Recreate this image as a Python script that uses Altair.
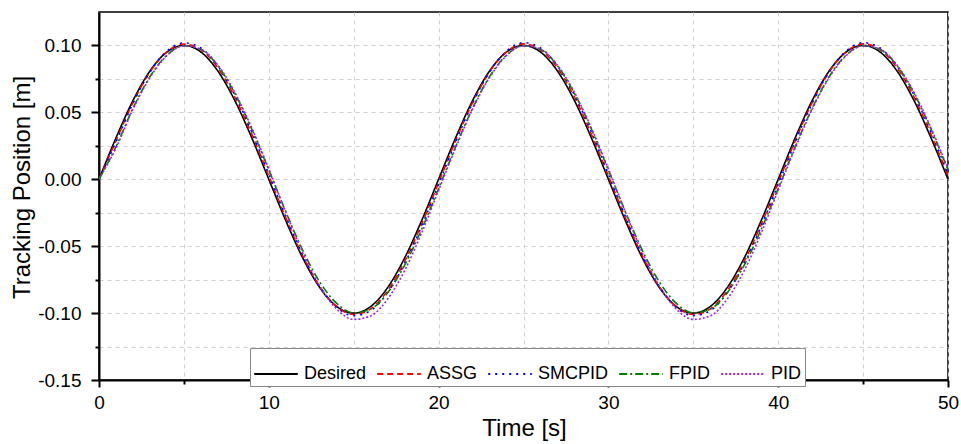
import altair as alt
import pandas as pd

time_s = list(range(0, 51))

desired = [0.0, 0.0309, 0.0588, 0.0809, 0.0951, 0.1000, 0.0951, 0.0809, 0.0588, 0.0309,
           0.0, -0.0309, -0.0588, -0.0809, -0.0951, -0.1000, -0.0951, -0.0809, -0.0588, -0.0309,
           0.0, 0.0309, 0.0588, 0.0809, 0.0951, 0.1000, 0.0951, 0.0809, 0.0588, 0.0309,
           0.0, -0.0309, -0.0588, -0.0809, -0.0951, -0.1000, -0.0951, -0.0809, -0.0588, -0.0309,
           0.0, 0.0309, 0.0588, 0.0809, 0.0951, 0.1000, 0.0951, 0.0809, 0.0588, 0.0309, 0.0]

assg = [0.0, 0.0288, 0.0573, 0.0802, 0.0952, 0.1010, 0.0968, 0.0832, 0.0614, 0.0336,
        0.0025, -0.0288, -0.0573, -0.0802, -0.0952, -0.1010, -0.0968, -0.0832, -0.0614, -0.0336,
        -0.0025, 0.0288, 0.0573, 0.0802, 0.0952, 0.1012, 0.0968, 0.0832, 0.0614, 0.0336,
        0.0025, -0.0288, -0.0573, -0.0802, -0.0952, -0.1010, -0.0968, -0.0832, -0.0614, -0.0336,
        -0.0025, 0.0288, 0.0573, 0.0802, 0.0952, 0.1012, 0.0968, 0.0832, 0.0614, 0.0336, 0.0025]

smcpid = [0.0, 0.0278, 0.0568, 0.0802, 0.0958, 0.1019, 0.0981, 0.0847, 0.0630, 0.0352,
          0.0038, -0.0278, -0.0568, -0.0802, -0.0958, -0.1019, -0.0981, -0.0847, -0.0630, -0.0352,
          -0.0038, 0.0278, 0.0568, 0.0802, 0.0958, 0.1021, 0.0981, 0.0847, 0.0630, 0.0352,
          0.0038, -0.0278, -0.0568, -0.0802, -0.0958, -0.1019, -0.0981, -0.0847, -0.0630, -0.0352,
          -0.0038, 0.0278, 0.0568, 0.0802, 0.0958, 0.1021, 0.0981, 0.0847, 0.0630, 0.0352, 0.0038]

fpid = [0.0, 0.0243, 0.0531, 0.0767, 0.0928, 0.0998, 0.0970, 0.0848, 0.0642, 0.0374,
        0.0069, -0.0243, -0.0531, -0.0767, -0.0928, -0.0998, -0.0970, -0.0848, -0.0642, -0.0374,
        -0.0069, 0.0243, 0.0531, 0.0767, 0.0928, 0.0998, 0.0970, 0.0848, 0.0642, 0.0374,
        0.0069, -0.0243, -0.0531, -0.0767, -0.0928, -0.0998, -0.0970, -0.0848, -0.0642, -0.0374,
        -0.0069, 0.0243, 0.0531, 0.0767, 0.0928, 0.0998, 0.0970, 0.0848, 0.0642, 0.0374, 0.0069]

pid = [0.0, 0.0233, 0.0523, 0.0760, 0.0924, 0.0997, 0.0972, 0.0853, 0.0649, 0.0383,
       0.0078, -0.0245, -0.0549, -0.0798, -0.0970, -0.1047, -0.1021, -0.0895, -0.0682, -0.0402,
       -0.0082, 0.0233, 0.0523, 0.0760, 0.0924, 0.0997, 0.0972, 0.0853, 0.0649, 0.0383,
       0.0078, -0.0245, -0.0549, -0.0798, -0.0970, -0.1047, -0.1021, -0.0895, -0.0682, -0.0402,
       -0.0082, 0.0233, 0.0523, 0.0760, 0.0924, 0.0997, 0.0972, 0.0853, 0.0649, 0.0383, 0.0078]

series_names = ["Desired", "ASSG", "SMCPID", "FPID", "PID"]
series_colors = ["#000000", "#ff0000", "#0000ff", "#008000", "#a020f0"]
series_dashes = [[1, 0], [6, 4], [2, 5], [8, 3, 2, 3], [2, 2]]

x_ticks = [0, 5, 10, 15, 20, 25, 30, 35, 40, 45, 50]
y_ticks = [-0.15, -0.125, -0.1, -0.075, -0.05, -0.025, 0.0, 0.025, 0.05, 0.075, 0.1]

rows = []
for order, (name, vals) in enumerate(zip(series_names, [desired, assg, smcpid, fpid, pid])):
    for t, v in zip(time_s, vals):
        rows.append({"t": t, "v": v, "series": name, "ord": order})
df = pd.DataFrame(rows)

FONT = "Liberation Sans"

x_major = "datum.value % 10 == 0"
y_major = "abs(round(datum.value * 20) - datum.value * 20) < 0.001"

chart = alt.Chart(df).mark_line(strokeWidth=1.6, interpolate="monotone", clip=True).encode(
    x=alt.X("t:Q",
            scale=alt.Scale(domain=[0, 50], nice=False, zero=False),
            axis=alt.Axis(values=x_ticks,
                          labelExpr=x_major + " ? datum.label : ''",
                          tickSize={"condition": {"test": x_major, "value": 7}, "value": 4},
                          labelPadding=6, labelFlush=False,
                          title="Time [s]", titleX=425, titleY=48,
                          titleBaseline="middle", titleAlign="center")),
    y=alt.Y("v:Q",
            scale=alt.Scale(domain=[-0.15, 0.125], nice=False, zero=False),
            axis=alt.Axis(values=y_ticks,
                          labelExpr=y_major + " ? (datum.value < -0.0001 ? '-' : '') + format(abs(datum.value), '.2f') : ''",
                          tickSize={"condition": {"test": y_major, "value": 8}, "value": 4},
                          labelPadding=10, labelFlush=False,
                          title="Tracking Position [m]", titleX=-77, titleY=175,
                          titleAngle=270, titleBaseline="middle", titleAlign="center")),
    color=alt.Color("series:N",
                    scale=alt.Scale(domain=series_names, range=series_colors),
                    legend=alt.Legend(title=None, orient="none", legendX=151, legendY=336,
                                      direction="horizontal", symbolType="stroke",
                                      symbolSize=1900, symbolStrokeWidth=2,
                                      labelFontSize=18, labelFont=FONT, labelColor="black",
                                      strokeColor="#888888", fillColor="white",
                                      padding=3, columnPadding=6, labelOffset=5)),
    strokeDash=alt.StrokeDash("series:N",
                              scale=alt.Scale(domain=series_names, range=series_dashes),
                              legend=alt.Legend(title=None)),
    order=alt.Order("ord:Q"),
).properties(
    width=849, height=368,
    padding={"left": 99, "top": 12, "right": 13, "bottom": 64},
    autosize=alt.AutoSizeParams(type="none"),
    background="white",
).configure_view(
    stroke="black", strokeWidth=1.5
).configure_axis(
    domainColor="black", domainWidth=2, tickColor="black", tickWidth=2,
    labelColor="black", titleColor="black", labelFont=FONT, titleFont=FONT,
    labelFontSize=19, titleFontSize=24, titleFontWeight="normal",
    grid=True, gridColor="#d0d0d0", gridDash=[4, 4], gridWidth=1,
)

chart.save("out.html", embed_options={"renderer": "svg", "actions": False})
